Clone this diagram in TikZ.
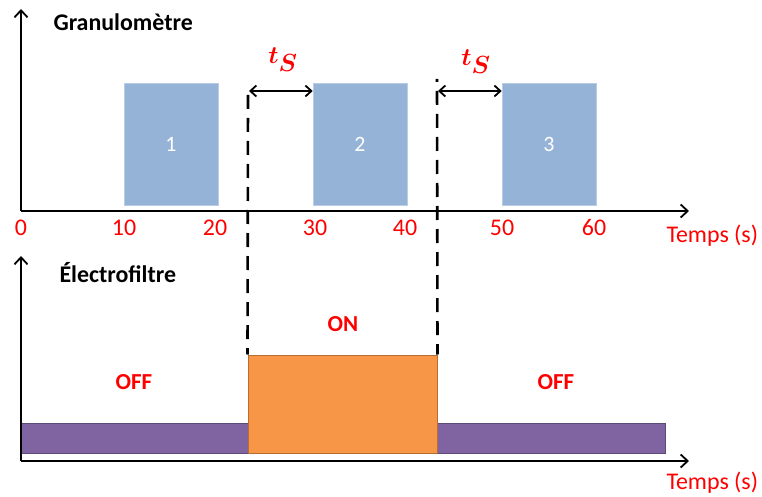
\documentclass[tikz,border=0pt]{standalone}
\usepackage{fontspec}
\setmainfont{Carlito}
\usetikzlibrary{arrows.meta}
\definecolor{slotblue}{HTML}{95B3D7}
\definecolor{slotedge}{HTML}{B9CDE5}
\definecolor{offfill}{HTML}{8064A2}
\definecolor{offedge}{HTML}{5F4B7A}
\definecolor{onfill}{HTML}{F79646}
\definecolor{onedge}{HTML}{B66D31}
\definecolor{labred}{HTML}{FF0000}
\tikzset{
  axis/.style={line width=1.8bp, -{Straight Barb[length=7bp,width=13bp,line width=1.8bp]}},
  slot/.style={fill=slotblue, draw=slotedge, line width=0.6bp, inner sep=0pt,
    text=white, font=\fontsize{22}{26}\selectfont},
  title/.style={font=\bfseries\fontsize{24}{28}\selectfont, anchor=west},
  ticklab/.style={text=labred, font=\fontsize{24}{28}\selectfont},
  timelab/.style={text=labred, font=\fontsize{24}{28}\selectfont, anchor=west},
  statelab/.style={text=labred, font=\bfseries\fontsize{23}{27}\selectfont},
  guide/.style={line width=2.6bp, dash pattern=on 14bp off 9bp},
  gap/.style={line width=1.8bp, {Straight Barb[length=6bp,width=11bp,line width=1.8bp]}-{Straight Barb[length=6bp,width=11bp,line width=1.8bp]}},
  gaplab/.style={text=labred, font=\fontsize{34}{38}\selectfont\boldmath}
}
\begin{document}
\begin{tikzpicture}[x=1bp,y=-1bp]
\useasboundingbox (0,0) rectangle (762,497);

% ---- Granulometre timeline ----
\coordinate (o1) at (21,211);
\coordinate (y1) at (21,9);
\coordinate (x1) at (689,211);
\draw[axis] (o1) -- (y1);
\draw[axis] (o1) -- (x1);
\node[title] (gtitle) at (50,22) {Granulomètre};

\node[slot, minimum width=94bp, minimum height=122bp] (s1) at (171,144) {1};
\node[slot, minimum width=94bp, minimum height=122bp] (s2) at (360,144) {2};
\node[slot, minimum width=94bp, minimum height=122bp] (s3) at (549,144) {3};

\node[ticklab] (t0) at (21,228) {0};
\node[ticklab] (t10) at (124,228) {10};
\node[ticklab] (t20) at (215,228) {20};
\node[ticklab] (t30) at (315,228) {30};
\node[ticklab] (t40) at (405,228) {40};
\node[ticklab] (t50) at (502,228) {50};
\node[ticklab] (t60) at (594,228) {60};
\node[timelab] (time1) at (663,236) {Temps (s)};

% ---- Electrofiltre timeline ----
\coordinate (o2) at (21,461);
\coordinate (y2) at (21,256);
\coordinate (x2) at (689,461);
\node[title] (etitle) at (56,273) {Électrofiltre};

\fill[offfill, draw=offedge, line width=1bp] (21,423) rectangle (248,453);
\fill[offfill, draw=offedge, line width=1bp] (437,423) rectangle (665,453);
\node[fill=onfill, draw=onedge, line width=1bp, minimum width=189bp, minimum height=98bp, inner sep=0pt] (on) at (342.5,404) {};

\draw[axis] (o2) -- (y2);
\draw[axis] (o2) -- (x2);
\node[timelab] (time2) at (663,483) {Temps (s)};

\node[statelab] (off1) at (134,382) {OFF};
\node[statelab] (onl) at (343,324) {ON};
\node[statelab] (off2) at (556,382) {OFF};

% ---- switching instants and delay ----
\coordinate (d1) at (248,95);
\coordinate (d2) at (437,79);
\draw[guide] (d1) -- (on.north west);
\draw[guide, dash phase=11bp] (d2) -- (on.north east);

\coordinate (g1) at (249,91);
\coordinate (g2) at (438,91);
\draw[gap] (g1) -- (s2.west |- g1);
\draw[gap] (g2) -- (s3.west |- g2);
\node[gaplab] (ts1) at (283,60) {$t_S$};
\node[gaplab] (ts2) at (476,62) {$t_S$};
\end{tikzpicture}
\end{document}
